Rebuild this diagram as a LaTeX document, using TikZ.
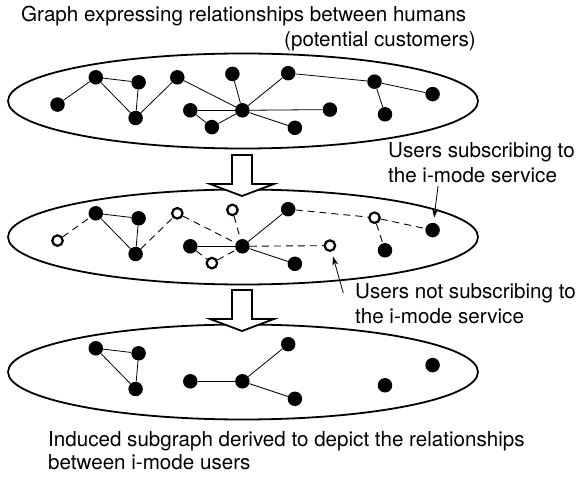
\documentclass[tikz,border=0pt]{standalone}
\usepackage{fontspec}
\setmainfont{TeX Gyre Heros}
\usetikzlibrary{arrows.meta,shapes.geometric}
\begin{document}
\begin{tikzpicture}[x=1pt,y=-1pt,
  user/.style={circle,fill=black,inner sep=0pt,minimum size=14.5pt},
  nonuser/.style={circle,draw=black,line width=2.2pt,fill=white,inner sep=0pt,minimum size=10.5pt},
  link/.style={line width=0.8pt},
  weak/.style={link,line width=0.9pt,dash pattern=on 7pt off 5pt},
  field/.style={ellipse,draw=black,line width=1.8pt,inner sep=0pt,minimum width=470pt,minimum height=95pt},
  blockarrow/.style={draw=black,line width=1.8pt,fill=white,line join=miter},
  pointer/.style={line width=0.8pt,-{Stealth[length=9pt,width=6pt]},shorten >=5pt},
  lbl/.style={inner sep=0pt,font=\fontsize{20.6}{25}\selectfont}]
\useasboundingbox (0,0) rectangle (582,478);

% the three populations
\node[field] (g1) at (243,101) {};
\node[field] (g2) at (243,237) {};
\node[field] (g3) at (243,372) {};

% transformation arrows between the stages
\foreach \dy in {0,135} {
  \draw[blockarrow] (232,155+\dy) -- (252,155+\dy) -- (252,184+\dy) -- (274,184+\dy)
    -- (242,196+\dy) -- (210,184+\dy) -- (232,184+\dy) -- cycle;
}

% stage 1: all people
\node[user] (a1) at (57.5,104.6) {};
\node[user] (b1) at (95.8,77.3) {};
\node[user] (c1) at (138.6,82.3) {};
\node[user] (d1) at (135.6,118) {};
\node[user] (e1) at (177.3,77.3) {};
\node[user] (f1) at (232.4,73.9) {};
\node[user] (h1) at (374.5,81.7) {};
\node[user] (i1) at (432.6,94.1) {};
\node[user] (j1) at (385,114.3) {};
\node[user] (k1) at (190.3,110.3) {};
\node[user] (l1) at (242.4,110.3) {};
\node[user] (m1) at (211.9,127.1) {};
\node[user] (n1) at (329.9,109.6) {};
\node[user] (o1) at (294.9,127.8) {};
\node[user] (q1) at (288.2,73.2) {};
\foreach \u/\v in {a1/b1,b1/c1,b1/d1,c1/d1,d1/e1,e1/l1,f1/l1,q1/l1,k1/l1,k1/m1,m1/l1,l1/n1,l1/o1,q1/h1,h1/i1,h1/j1}
  \draw[link] (\u) -- (\v);

% stage 2: subscribers and non-subscribers
\begin{scope}[yshift=-136pt]
\node[nonuser] (a2) at (57.5,104.6) {};
\node[user] (b2) at (95.8,77.3) {};
\node[user] (c2) at (138.6,82.3) {};
\node[user] (d2) at (135.6,118) {};
\node[nonuser] (e2) at (177.3,77.3) {};
\node[nonuser] (f2) at (232.4,73.9) {};
\node[nonuser] (h2) at (374.5,81.7) {};
\node[user] (i2) at (432.6,94.1) {};
\node[user] (j2) at (385,114.3) {};
\node[user] (k2) at (190.3,110.3) {};
\node[user] (l2) at (242.4,110.3) {};
\node[nonuser] (m2) at (211.9,127.1) {};
\node[nonuser] (n2) at (329.9,109.6) {};
\node[user] (o2) at (294.9,127.8) {};
\node[user] (q2) at (288.2,73.2) {};
\end{scope}
\foreach \u/\v in {b2/c2,b2/d2,c2/d2,q2/l2,k2/l2,l2/o2}
  \draw[link] (\u) -- (\v);
\foreach \u/\v in {a2/b2,d2/e2,e2/l2,f2/l2,k2/m2,m2/l2,l2/n2,q2/h2,h2/i2,h2/j2}
  \draw[weak] (\u) -- (\v);

% stage 3: induced subgraph of subscribers
\begin{scope}[yshift=-271pt]
\node[user] (b3) at (95.8,77.3) {};
\node[user] (c3) at (138.6,82.3) {};
\node[user] (d3) at (135.6,118) {};
\node[user] (i3) at (432.6,94.1) {};
\node[user] (j3) at (385,114.3) {};
\node[user] (k3) at (190.3,110.3) {};
\node[user] (l3) at (242.4,110.3) {};
\node[user] (o3) at (294.9,127.8) {};
\node[user] (q3) at (288.2,73.2) {};
\end{scope}
\foreach \u/\v in {b3/c3,b3/d3,c3/d3,k3/l3,l3/q3,l3/o3}
  \draw[link] (\u) -- (\v);

% captions
\node[lbl,anchor=base west] (t1) at (21,22) {Graph expressing relationships between humans};
\node[lbl,anchor=base west] (t2) at (284,47) {(potential customers)};
\node[lbl,anchor=base west] (s1) at (388,158) {Users subscribing to};
\node[lbl,anchor=base west] (s2) at (388,183) {the i-mode service};
\node[lbl,anchor=base west] (u1) at (355,299) {Users not subscribing to};
\node[lbl,anchor=base west] (u2) at (355,324) {the i-mode service};
\node[lbl,anchor=base west] (b1t) at (48,447) {Induced subgraph derived to depict the relationships};
\node[lbl,anchor=base west] (b2t) at (48,470) {between i-mode users};

% callout pointers
\coordinate (subtail) at (438,186);
\coordinate (nontail) at (343.3,293);
\draw[pointer] (subtail) -- (i2);
\draw[pointer] (nontail) -- (n2);
\end{tikzpicture}
\end{document}
